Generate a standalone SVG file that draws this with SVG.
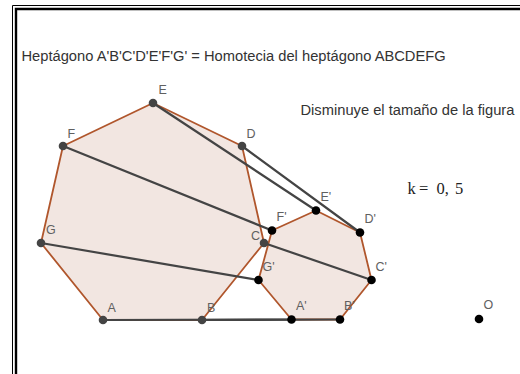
<svg xmlns="http://www.w3.org/2000/svg" width="520" height="374" viewBox="0 0 520 374">
<style>
.hept{fill:#f2e6e1;stroke:#b0562c;stroke-width:1.8;stroke-linejoin:round}
.seg{stroke:#444;stroke-width:2.2;fill:none;stroke-linecap:round}
.pt{fill:#444}
.pt2{fill:#000}
.lbl{font-family:"Liberation Sans",Arial,sans-serif;font-size:12.5px;fill:#606060}
.txt{font-family:"Liberation Sans",Arial,sans-serif;font-size:14.7px;fill:#333}
</style>
<rect width="520" height="374" fill="#fff"/>
<g id="frame" fill="none" stroke="#000">
<path d="M12.5 374 V5.5 H520" stroke-width="1"/>
<path d="M16 374 V9 H520" stroke-width="2.4"/>
</g>
<g id="title"><text class="txt" x="21.5" y="61">Heptágono A'B'C'D'E'F'G' = Homotecia del heptágono ABCDEFG</text></g>
<g id="subtitle"><text class="txt" x="300.5" y="115">Disminuye el tamaño de la figura</text></g>
<g id="kvalue"><text font-family="'Liberation Serif','Times New Roman',serif" font-size="16.5" fill="#222" y="194"><tspan x="407.5">k</tspan><tspan x="419">=</tspan><tspan x="436.5">0,</tspan><tspan x="455">5</tspan></text></g>
<g id="heptagon-ABCDEFG"><polygon class="hept" points="103,320 202,320 264,243 242,146 153,103 63,146 41,243"/></g>
<g id="heptagon-prime"><polygon class="hept" points="291.5,319.5 340,319.5 371.5,280 360,232.5 316,210.5 272,230.5 258.5,280"/></g>
<g id="connectors">
<line class="seg" x1="103" y1="320" x2="291.5" y2="319.5"/>
<line class="seg" x1="202" y1="320" x2="340" y2="319.5"/>
<line class="seg" x1="264" y1="243" x2="371.5" y2="280"/>
<line class="seg" x1="242" y1="146" x2="360" y2="232.5"/>
<line class="seg" x1="153" y1="103" x2="316" y2="210.5"/>
<line class="seg" x1="63" y1="146" x2="272" y2="230.5"/>
<line class="seg" x1="41" y1="243" x2="258.5" y2="280"/>
</g>
<g id="point-A"><circle class="pt" cx="103" cy="320" r="4.3"/><text class="lbl" x="107.5" y="311.5">A</text></g>
<g id="point-B"><circle class="pt" cx="202" cy="320" r="4.3"/><text class="lbl" x="207" y="311.5">B</text></g>
<g id="point-C"><circle class="pt" cx="264" cy="243" r="4.3"/><text class="lbl" x="251" y="239.5">C</text></g>
<g id="point-D"><circle class="pt" cx="242" cy="146" r="4.3"/><text class="lbl" x="246.5" y="137.5">D</text></g>
<g id="point-E"><circle class="pt" cx="153" cy="103" r="4.3"/><text class="lbl" x="158.5" y="94">E</text></g>
<g id="point-F"><circle class="pt" cx="63" cy="146" r="4.3"/><text class="lbl" x="67.5" y="137.5">F</text></g>
<g id="point-G"><circle class="pt" cx="41" cy="243" r="4.3"/><text class="lbl" x="46" y="234">G</text></g>
<g id="point-A1"><circle class="pt2" cx="291.5" cy="319.5" r="4.3"/><text class="lbl" x="296" y="310">A'</text></g>
<g id="point-B1"><circle class="pt2" cx="340" cy="319.5" r="4.3"/><text class="lbl" x="344" y="310">B'</text></g>
<g id="point-C1"><circle class="pt2" cx="371.5" cy="280" r="4.3"/><text class="lbl" x="375.5" y="270.5">C'</text></g>
<g id="point-D1"><circle class="pt2" cx="360" cy="232.5" r="4.3"/><text class="lbl" x="364.5" y="223">D'</text></g>
<g id="point-E1"><circle class="pt2" cx="316" cy="210.5" r="4.3"/><text class="lbl" x="320.5" y="200.5">E'</text></g>
<g id="point-F1"><circle class="pt2" cx="272" cy="230.5" r="4.3"/><text class="lbl" x="276.5" y="221">F'</text></g>
<g id="point-G1"><circle class="pt2" cx="258.5" cy="280" r="4.3"/><text class="lbl" x="262.5" y="270.5">G'</text></g>
<g id="point-O"><circle class="pt2" cx="479" cy="319" r="4.3"/><text class="lbl" x="483.5" y="309">O</text></g>
</svg>
